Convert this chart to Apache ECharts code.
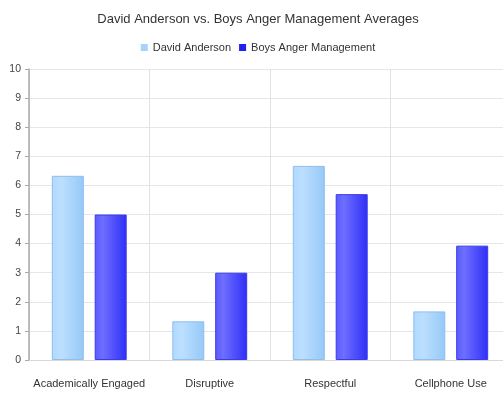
<!DOCTYPE html>
<html>
<head>
<meta charset="utf-8">
<script src="https://cdn.jsdelivr.net/npm/echarts@6/dist/echarts.min.js"></script>
<style>
  html, body { margin: 0; padding: 0; background: #fff; overflow: hidden; }
  #wrap { width: 503px; height: 393px; overflow: hidden; }
  #chart { width: 516px; height: 393px; }
</style>
</head>
<body>
<div id="wrap"><div id="chart"></div></div>
<script>
const categories = ['Academically Engaged', 'Disruptive', 'Respectful', 'Cellphone Use'];
const davidAnderson = [6.33, 1.33, 6.67, 1.67];
const boysAngerManagement = [5, 3, 5.7, 3.93];
const yTicks = [0, 1, 2, 3, 4, 5, 6, 7, 8, 9, 10];

function hGrad(stops) {
  return new echarts.graphic.LinearGradient(0, 0, 1, 0,
    stops.map(([offset, color]) => ({ offset, color })));
}

const chart = echarts.init(document.getElementById('chart'), null, { renderer: 'canvas' });
chart.setOption({
  animation: false,
  backgroundColor: '#ffffff',
  textStyle: { fontFamily: 'Liberation Sans, Arial, sans-serif' },
  title: {
    text: 'David Anderson vs. Boys Anger Management Averages',
    left: 'center',
    top: 8,
    textStyle: { fontSize: 13, fontWeight: 'normal', color: '#333' }
  },
  legend: {
    top: 37,
    left: 'center',
    itemWidth: 7,
    itemHeight: 7,
    itemGap: 8,
    icon: 'rect',
    textStyle: { fontSize: 11, color: '#333' },
    data: [
      { name: 'David Anderson', itemStyle: { color: '#a5d2ff', borderWidth: 0 } },
      { name: 'Boys Anger Management', itemStyle: { color: '#2020f0', borderWidth: 0 } }
    ]
  },
  grid: { left: 29, right: 5, top: 69, bottom: 33, containLabel: false },
  xAxis: {
    type: 'category',
    data: categories,
    axisLine: { lineStyle: { color: '#d8d8d8', width: 1 } },
    axisTick: { show: false },
    splitLine: { show: true, lineStyle: { color: '#e2e2e2' } },
    axisLabel: { fontSize: 11, color: '#333', margin: 18, interval: 0 }
  },
  yAxis: {
    type: 'value',
    min: yTicks[0],
    max: yTicks[yTicks.length - 1],
    interval: 1,
    axisLine: { show: true, lineStyle: { color: '#aaaaaa', width: 1.5 } },
    axisTick: { show: true, length: 4, lineStyle: { color: '#aaaaaa' } },
    splitLine: { lineStyle: { color: '#e6e6e6' } },
    axisLabel: { fontSize: 10.5, color: '#444', margin: 8 }
  },
  series: [
    {
      name: 'David Anderson',
      type: 'bar',
      data: davidAnderson,
      barWidth: 32,
      barGap: '34%',
      itemStyle: {
        color: hGrad([[0, '#b0d8ff'], [0.3, '#bcdfff'], [1, '#96c8f6']]),
        borderColor: '#8cbfee',
        borderWidth: 1
      }
    },
    {
      name: 'Boys Anger Management',
      type: 'bar',
      data: boysAngerManagement,
      barWidth: 32,
      itemStyle: {
        color: hGrad([[0, '#5a5aff'], [0.25, '#6e6eff'], [1, '#2f2ff8']]),
        borderColor: '#3a3ae8',
        borderWidth: 1
      }
    }
  ]
});
</script>
</body>
</html>
